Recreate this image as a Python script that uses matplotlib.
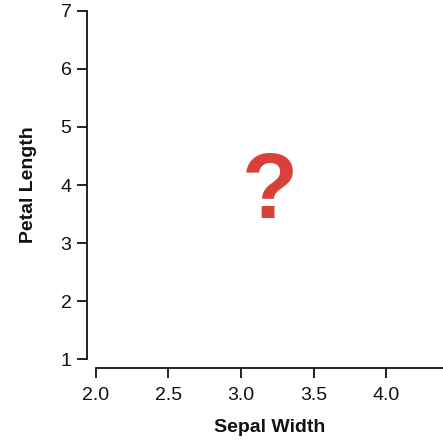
import matplotlib
matplotlib.use("Agg")
import matplotlib.pyplot as plt

# Axis domains and ticks
x_domain = [2.0, 4.4]
y_domain = [1, 7]
x_ticks = [2.0, 2.5, 3.0, 3.5, 4.0]
y_ticks = [1, 2, 3, 4, 5, 6, 7]
x_label = "Sepal Width"
y_label = "Petal Length"

# Placeholder mark position (no data loaded yet)
mark_x = 3.2
mark_y = 3.43
mark_text = "?"

plt.rcParams["font.family"] = ["Liberation Sans", "DejaVu Sans"]

W, H, DPI = 443, 440, 100
fig = plt.figure(figsize=(W / DPI, H / DPI), dpi=DPI)
fig.patch.set_facecolor("white")

left_px, right_px = 95.7, 444.5
top_px, bottom_px = 10.7, 359.3
ax = fig.add_axes([left_px / W, 1 - bottom_px / H,
                   (right_px - left_px) / W, (bottom_px - top_px) / H])

ax.set_xlim(*x_domain)
ax.set_ylim(*y_domain)
ax.set_xticks(x_ticks)
ax.set_xticklabels([f"{v:.1f}" for v in x_ticks])
ax.set_yticks(y_ticks)
ax.set_yticklabels([str(v) for v in y_ticks])

for side in ("top", "right"):
    ax.spines[side].set_visible(False)
offset_pt = 9 * 72 / DPI
for side in ("left", "bottom"):
    ax.spines[side].set_position(("outward", offset_pt))
    ax.spines[side].set_linewidth(1.3)
    ax.spines[side].set_color("#111111")
ax.spines["left"].set_bounds(*y_domain)
ax.spines["bottom"].set_bounds(*x_domain)

ax.tick_params(axis="both", direction="out", length=7.2, width=1.3,
               color="#111111", labelsize=14, labelcolor="#111111")
ax.tick_params(axis="y", pad=3.8)
ax.tick_params(axis="x", pad=6)

ax.set_xlabel(x_label, fontsize=14, fontweight="bold", labelpad=11, color="#111111")
ax.set_ylabel(y_label, fontsize=14, fontweight="bold", labelpad=17, color="#111111")

ax.text(mark_x, mark_y, mark_text, ha="center", va="baseline",
        fontsize=66, fontweight="bold", color="#d8403a")

fig.savefig("out.png", dpi=DPI, facecolor="white")
